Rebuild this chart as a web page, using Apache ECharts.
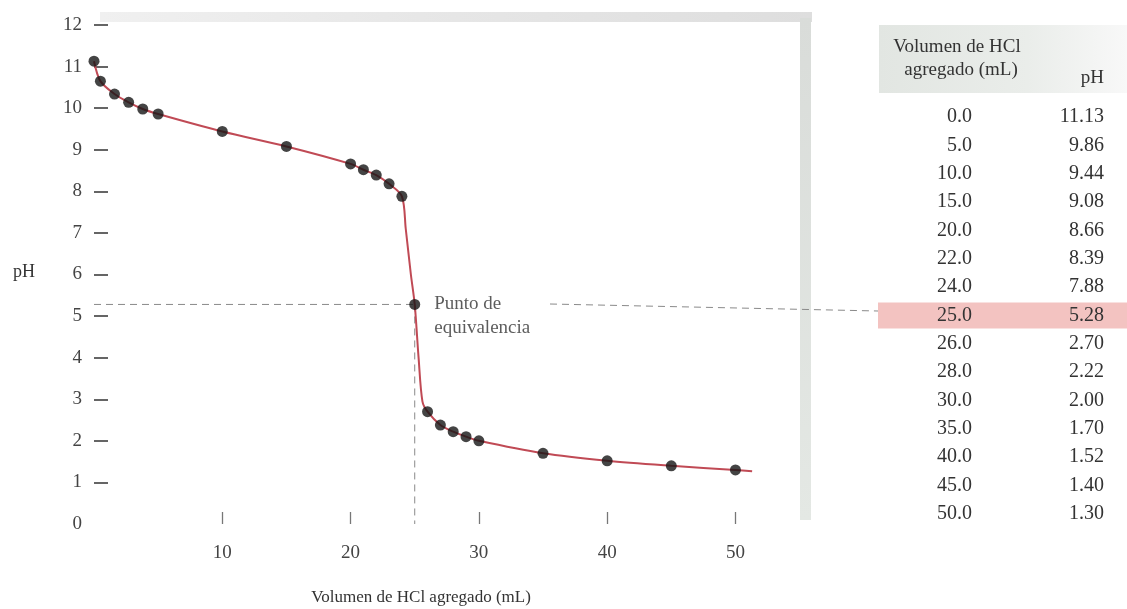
<!DOCTYPE html>
<html>
<head>
<meta charset="utf-8">
<script src="https://cdn.jsdelivr.net/npm/echarts@6/dist/echarts.min.js"></script>
<style>html,body{margin:0;padding:0;background:#fff}#c{width:1127px;height:609px}</style>
</head>
<body>
<div id="c"></div>
<script>
// Measured titration points (volume of HCl in mL, pH)
const pointVolume = [0, 0.5, 1.6, 2.7, 3.8, 5, 10, 15, 20, 21, 22, 23, 24, 25, 26, 27, 28, 29, 30, 35, 40, 45, 50];
const pointPH     = [11.13, 10.65, 10.34, 10.14, 9.98, 9.86, 9.44, 9.08, 8.66, 8.52, 8.39, 8.18, 7.88, 5.28, 2.70, 2.38, 2.22, 2.10, 2.00, 1.70, 1.52, 1.40, 1.30];
// Smooth curve as drawn
const curveVolume = [0, 0.5, 1.6, 2.7, 3.8, 5, 10, 15, 20, 21, 22, 23, 24, 24.3, 24.7, 25, 25.3, 25.6, 26, 27, 28, 29, 30, 35, 40, 45, 50, 51.3];
const curvePH     = [11.13, 10.65, 10.34, 10.14, 9.98, 9.86, 9.44, 9.08, 8.66, 8.52, 8.39, 8.18, 7.88, 7.1, 6.0, 5.28, 4.0, 2.95, 2.70, 2.38, 2.22, 2.10, 2.00, 1.70, 1.52, 1.40, 1.30, 1.27];
// Equivalence point
const eqVolume = 25;
const eqPH = 5.28;
// Table
const tableHeaderVol = ['Volumen de HCl', 'agregado (mL)'];
const tableHeaderPH = 'pH';
const tableVolume = ['0.0','5.0','10.0','15.0','20.0','22.0','24.0','25.0','26.0','28.0','30.0','35.0','40.0','45.0','50.0'];
const tablePH = ['11.13','9.86','9.44','9.08','8.66','8.39','7.88','5.28','2.70','2.22','2.00','1.70','1.52','1.40','1.30'];
const highlightIndex = 7;
// Axes
const yLabelValues = [0,1,2,3,4,5,6,7,8,9,10,11,12];
const yTickValues = [1,2,3,4,5,6,7,8,9,10,11,12];
const xLabelValues = [10,20,30,40,50];
const xAxisName = 'Volumen de HCl agregado (mL)';
const yAxisName = 'pH';
const eqLabel = 'Punto de\nequivalencia';

const FONT = '"Liberation Serif", "DejaVu Serif", serif';
const chart = echarts.init(document.getElementById('c'));

const graphics = [];
// background frame of the photo panel
graphics.push({type:'rect', shape:{x:100,y:12,width:712,height:10}, style:{fill:{type:'linear',x:0,y:0,x2:1,y2:0,colorStops:[{offset:0,color:'#f0f0f0'},{offset:0.5,color:'#e6e6e6'},{offset:1,color:'#dedede'}]}}, silent:true, z:-10});
graphics.push({type:'rect', shape:{x:800,y:18,width:11,height:502}, style:{fill:{type:'linear',x:0,y:0,x2:0,y2:1,colorStops:[{offset:0,color:'#d9dcd9'},{offset:1,color:'#e4e8e4'}]}}, silent:true, z:-10});
// table header background
graphics.push({type:'rect', shape:{x:879,y:25,width:248,height:68}, style:{fill:{type:'linear',x:0,y:0,x2:1,y2:0,colorStops:[{offset:0,color:'#e2e6e2'},{offset:0.6,color:'#eaedea'},{offset:1,color:'#f8f8f8'}]}}, silent:true, z:-5});
// highlight row
const rowY0 = 117, rowStep = 28.35;
graphics.push({type:'rect', shape:{x:878,y:rowY0+highlightIndex*rowStep-13,width:249,height:26}, style:{fill:'#f3c3c1'}, silent:true, z:-5});
// header text
graphics.push({type:'text', x:957, y:47, style:{text:tableHeaderVol[0], font:'19px '+FONT, fill:'#333', align:'center', verticalAlign:'middle'}});
graphics.push({type:'text', x:961, y:70, style:{text:tableHeaderVol[1], font:'19px '+FONT, fill:'#333', align:'center', verticalAlign:'middle'}});
graphics.push({type:'text', x:1104, y:78, style:{text:tableHeaderPH, font:'19px '+FONT, fill:'#333', align:'right', verticalAlign:'middle'}});
tableVolume.forEach((v,i)=>{
  const y = rowY0 + i*rowStep;
  graphics.push({type:'text', x:972, y:y, style:{text:v, font:'20px '+FONT, fill:'#333', align:'right', verticalAlign:'middle'}});
  graphics.push({type:'text', x:1104, y:y, style:{text:tablePH[i], font:'20px '+FONT, fill:'#333', align:'right', verticalAlign:'middle'}});
});
// connector from label to table row
graphics.push({type:'line', shape:{x1:550,y1:304,x2:878,y2:311}, style:{stroke:'#8a8a8a', lineWidth:1, lineDash:[7,5]}});
// axis names
graphics.push({type:'text', x:24, y:272, style:{text:yAxisName, font:'18px '+FONT, fill:'#333', align:'center', verticalAlign:'middle'}});
graphics.push({type:'text', x:421, y:598, style:{text:xAxisName, font:'17px '+FONT, fill:'#333', align:'center', verticalAlign:'middle'}});

chart.setOption({
  animation:false,
  backgroundColor:'#ffffff',
  grid:{left:94, top:25, width:705.6, height:499, containLabel:false},
  xAxis:{
    type:'value', min:0, max:55,
    axisLine:{show:false},
    splitLine:{show:false},
    axisTick:{show:true, inside:true, length:12, customValues:xLabelValues, lineStyle:{color:'#777', width:1.3}},
    axisLabel:{customValues:xLabelValues, margin:20, fontFamily:FONT, fontSize:19, color:'#444'}
  },
  yAxis:{
    type:'value', min:0, max:12,
    axisLine:{show:false},
    splitLine:{show:false},
    axisTick:{show:true, inside:true, length:14, customValues:yTickValues, lineStyle:{color:'#333', width:1.5}},
    axisLabel:{customValues:yLabelValues, margin:12, fontFamily:FONT, fontSize:19, color:'#444'}
  },
  graphic:graphics,
  series:[
    {
      type:'line', name:'ref-h', data:[[0,eqPH],[eqVolume,eqPH]],
      symbol:'none', lineStyle:{color:'#8a8a8a', width:1, type:[7,5]}, silent:true, z:1
    },
    {
      type:'line', name:'ref-v', data:[[eqVolume,eqPH],[eqVolume,0]],
      symbol:'none', lineStyle:{color:'#8a8a8a', width:1, type:[7,5]}, silent:true, z:1
    },
    {
      type:'line', name:'curve', data:curveVolume.map((v,i)=>[v,curvePH[i]]),
      smooth:0.3, symbol:'none',
      lineStyle:{color:'#c04a55', width:2}, z:2
    },
    {
      type:'scatter', name:'points',
      data:pointVolume.map((v,i)=>{
        const item = {value:[v,pointPH[i]]};
        if (v===eqVolume) {
          item.label = {show:true, position:'right', distance:14, offset:[0,12], formatter:eqLabel,
            fontFamily:FONT, fontSize:19, lineHeight:24, color:'#333', align:'left'};
        }
        return item;
      }),
      symbolSize:11, itemStyle:{color:'#151515'}, z:3
    }
  ]
});
</script>
</body>
</html>
